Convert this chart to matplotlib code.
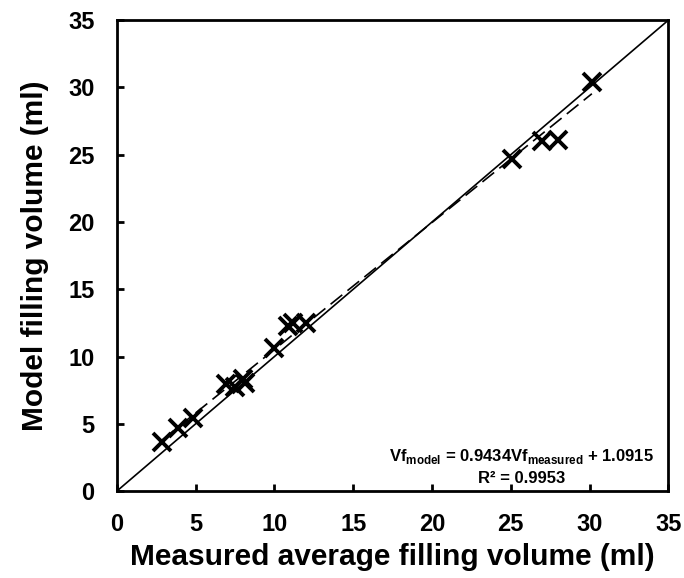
import matplotlib

matplotlib.use("Agg")
import matplotlib.pyplot as plt
import numpy as np

# Measured vs model filling volume (ml)
measured = [2.85, 3.9, 4.85, 6.9, 7.5, 8.0, 8.1, 9.95, 10.85, 11.15, 12.0,
            25.1, 27.0, 28.0, 30.15]
model = [3.65, 4.65, 5.4, 7.95, 7.7, 8.3, 8.05, 10.6, 12.25, 12.5, 12.5,
         24.7, 26.05, 26.1, 30.4]

slope = 0.9434
intercept = 1.0915
r_squared = 0.9953
ticks = [0, 5, 10, 15, 20, 25, 30, 35]

plt.rcParams["font.family"] = "Liberation Sans"
plt.rcParams["font.weight"] = "bold"
plt.rcParams["mathtext.fontset"] = "custom"
plt.rcParams["mathtext.rm"] = "Liberation Sans:bold"
plt.rcParams["mathtext.bf"] = "Liberation Sans:bold"

fig = plt.figure(figsize=(6.84, 5.78), dpi=100)
ax = fig.add_axes([0.171, 0.1505, 0.806, 0.8145])

# identity line
ax.plot([0, 35], [0, 35], color="black", linewidth=1.2)

# linear trendline over the data range
x_fit = np.array([min(measured), max(measured)])
ax.plot(x_fit, slope * x_fit + intercept, color="black", linewidth=1.2,
        linestyle=(0, (9, 4)))

ax.plot(measured, model, linestyle="none", marker="x", markersize=13,
        markeredgewidth=2.8, color="black")

ax.set_xlim(0, 35)
ax.set_ylim(0, 35)
ax.set_xticks(ticks)
ax.set_yticks(ticks)
ax.tick_params(direction="in", length=5, width=2, labelsize=17)
ax.tick_params(axis="x", pad=16)
ax.tick_params(axis="y", pad=16)
for label in ax.get_xticklabels() + ax.get_yticklabels():
    label.set_fontweight("bold")
for spine in ax.spines.values():
    spine.set_linewidth(2)

ax.set_xlabel("Measured average filling volume (ml)", fontsize=21.5,
              fontweight="bold", labelpad=5)
ax.set_ylabel("Model filling volume (ml)", fontsize=21.5, fontweight="bold",
              labelpad=14)

ax.text(25.7, 2.6,
        r"Vf$_{\mathrm{model}}$ = " + f"{slope}" + r"Vf$_{\mathrm{measured}}$"
        + f" + {intercept}",
        ha="center", va="center", fontsize=12, fontweight="bold")
ax.text(25.7, 0.9, f"R² = {r_squared}", ha="center", va="center",
        fontsize=12, fontweight="bold")

fig.savefig("out.png", dpi=100, facecolor="white")
